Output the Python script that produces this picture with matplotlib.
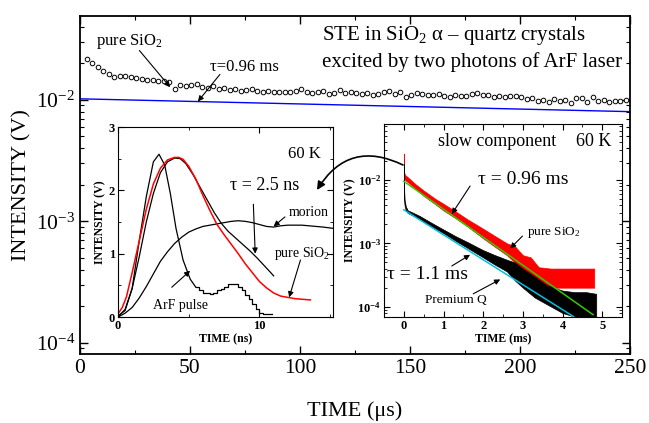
import numpy as np
import matplotlib
matplotlib.use("Agg")
import matplotlib.pyplot as plt
from matplotlib.ticker import MultipleLocator, LogLocator, NullFormatter, FuncFormatter, FixedLocator
from matplotlib.patches import FancyArrowPatch

plt.rcParams['font.family'] = ['Liberation Serif', 'DejaVu Serif']
plt.rcParams['mathtext.fontset'] = 'custom'
plt.rcParams['mathtext.rm'] = 'Liberation Serif'
plt.rcParams['mathtext.it'] = 'Liberation Serif:italic'
plt.rcParams['mathtext.bf'] = 'Liberation Serif:bold'
plt.rcParams['xtick.direction'] = 'in'
plt.rcParams['ytick.direction'] = 'in'
plt.rcParams['xtick.top'] = True
plt.rcParams['ytick.right'] = True

# main plot: STE decay, microsecond scale (values in 1e-3 V)
ste_mV = [21.5, 20.0, 18.8, 17.4, 16.2, 15.5, 15.8, 15.6, 15.3, 15.0, 14.8, 14.6, 14.5, 14.3, 14.4,
          14.0, 12.4, 13.3, 12.9, 13.2, 13.4, 12.8, 12.6, 12.9, 12.3,
          12.5, 12.1, 12.4, 11.8, 12.0, 12.2, 11.9, 11.7, 11.8, 11.6,
          11.6, 11.7, 11.5, 11.8, 12.3, 11.6, 11.3, 11.5, 11.9, 11.2,
          11.4, 12.0, 11.3, 11.5, 11.4, 11.2, 11.3, 11.0, 11.2, 11.6,
          11.9, 11.1, 11.5, 10.6, 11.0, 11.3, 11.2, 11.0, 10.9, 11.1,
          10.8, 10.6, 10.9, 10.7, 10.8, 11.1, 11.3, 11.0, 10.9, 10.6,
          10.7, 10.5, 10.8, 10.7, 10.5, 10.1, 10.3, 9.8, 10.0, 9.6,
          10.1, 9.8, 10.0, 9.5, 10.3, 10.4, 9.6, 10.6, 9.7, 9.9,
          9.6, 9.8, 9.7, 9.9]
ste_t = 3 + 2.5 * np.arange(len(ste_mV))
fit_us_t = [0, 250]
fit_us_y = [1.02e-2, 0.80e-2]

# left inset: nanosecond scale
arf_t = [0, 0.5, 1.0, 1.5, 2.0, 2.5, 2.9, 3.3, 3.7, 4.1, 4.6, 5.1, 5.5]
arf_y = [0.02, 0.1, 0.45, 1.2, 1.9, 2.45, 2.57, 2.4, 1.95, 1.4, 0.9, 0.6, 0.47]
arf_tail_t = [5.5, 5.75, 6.0, 6.25, 6.5, 6.75, 7.0, 7.25, 7.5, 7.75, 8.0, 8.25, 8.5, 8.75,
              9.0, 9.25, 9.5, 9.75, 10.0, 10.25, 10.5, 10.75, 10.9]
arf_tail_y = [0.47, 0.42, 0.38, 0.38, 0.36, 0.38, 0.42, 0.45, 0.48, 0.52, 0.52, 0.52, 0.48, 0.42,
              0.35, 0.28, 0.2, 0.12, 0.06, 0.04, 0.04, 0.04, 0.04]
sio2_ns_t = [0, 0.3, 0.6, 1.0, 1.5, 2.0, 2.5, 3.0, 3.5, 4.0, 4.3, 4.6, 5.0, 5.5, 6.0, 6.5, 7.0,
             7.5, 8.0, 8.5, 9.0, 9.5, 10.0, 10.5, 11.0, 11.5, 12.0, 12.5, 13.0, 13.6]
sio2_ns_y = [0.05, 0.15, 0.32, 0.7, 1.2, 1.7, 2.1, 2.35, 2.48, 2.52, 2.52, 2.49, 2.38, 2.18, 1.92,
             1.68, 1.46, 1.3, 1.15, 1.0, 0.84, 0.7, 0.56, 0.46, 0.38, 0.33, 0.31, 0.29, 0.28, 0.27]
fit_ns_t = [0, 0.5, 1.0, 1.5, 2.0, 2.5, 3.0, 3.5, 4.0, 4.4, 4.8, 5.3, 5.8, 6.3, 6.8, 7.3, 7.8,
            8.3, 8.8, 9.3, 9.8, 10.3, 10.8, 11.0]
fit_ns_y = [0, 0.12, 0.45, 0.95, 1.5, 1.95, 2.28, 2.45, 2.51, 2.5, 2.42, 2.25, 2.05, 1.85, 1.65,
            1.48, 1.35, 1.25, 1.15, 1.05, 0.94, 0.82, 0.7, 0.65]
morion_t = [0, 0.5, 1.0, 1.5, 2.0, 2.5, 3.0, 3.5, 4.0, 4.5, 5.0, 5.5, 6.0, 6.5, 7.0, 7.5, 8.0,
            8.5, 9.0, 9.5, 10.0, 10.5, 11.0, 11.5, 12.0, 12.5, 13.0, 13.5, 14.0, 14.5, 15.2]
morion_y = [0, 0.06, 0.15, 0.3, 0.48, 0.68, 0.88, 1.03, 1.16, 1.26, 1.34, 1.39, 1.43, 1.45, 1.47,
            1.49, 1.51, 1.52, 1.51, 1.49, 1.46, 1.43, 1.42, 1.44, 1.45, 1.45, 1.45, 1.44, 1.43,
            1.42, 1.40]

# right inset: millisecond scale (noisy bands given as envelopes)
red_t = [0.0, 0.005, 0.01, 0.03, 0.1, 0.3, 0.5, 0.8, 1.0, 1.3, 1.6, 2.0, 2.3, 2.6, 2.8, 3.0,
         3.2, 3.4, 3.7, 4.0, 4.3, 4.6, 4.8]
red_hi = [2.6e-2, 1.6e-2, 1.3e-2, 1.2e-2, 1.1e-2, 8.5e-3, 6.8e-3, 5.0e-3, 4.2e-3, 3.2e-3, 2.4e-3,
          1.7e-3, 1.3e-3, 1.0e-3, 9e-4, 6.5e-4, 6e-4, 4.2e-4, 4.0e-4, 4.0e-4, 4.0e-4, 4.0e-4, 4.0e-4]
red_lo = [1.2e-2, 1.1e-2, 1.05e-2, 1.0e-2, 9.2e-3, 7.2e-3, 5.6e-3, 4.1e-3, 3.3e-3, 2.5e-3, 1.85e-3,
          1.2e-3, 8.8e-4, 6.5e-4, 5e-4, 3.7e-4, 3.0e-4, 2.0e-4, 2.0e-4, 2.0e-4, 2.0e-4, 2.0e-4, 2.0e-4]
blk_t = [0.0, 0.005, 0.01, 0.02, 0.05, 0.1, 0.2, 0.4, 0.7, 1.0, 1.3, 1.6, 2.0, 2.3, 2.6, 2.8,
         3.0, 3.3, 3.6, 4.0, 4.3, 4.6, 4.85]
blk_hi = [1.8e-2, 1.0e-2, 6.5e-3, 4.8e-3, 3.8e-3, 3.3e-3, 3.1e-3, 2.7e-3, 2.1e-3, 1.65e-3, 1.3e-3,
          1.05e-3, 7.8e-4, 6.5e-4, 5.5e-4, 5.0e-4, 4.0e-4, 3.0e-4, 2.2e-4, 1.8e-4, 1.7e-4, 1.7e-4, 1.6e-4]
blk_lo = [1.2e-2, 6e-3, 4.5e-3, 3.9e-3, 3.3e-3, 3.0e-3, 2.8e-3, 2.4e-3, 1.85e-3, 1.45e-3, 1.1e-3,
          8.5e-4, 6.0e-4, 4.6e-4, 3.6e-4, 2.6e-4, 2.0e-4, 1.4e-4, 1.1e-4, 8e-5, 7e-5, 6.9e-5, 6.9e-5]
green_t = [0, 4.77]
green_y = [9.5e-3, 7.5e-5]
cyan_t = [0, 4.28]
cyan_y = [3.37e-3, 7.0e-5]

W, H = 649, 423
fig = plt.figure(figsize=(W / 100, H / 100), dpi=100)

def box(x0, y0, x1, y1):
    return [x0 / W, 1 - y1 / H, (x1 - x0) / W, (y1 - y0) / H]

arw = dict(arrowstyle='-|>', color='k', lw=0.8, mutation_scale=8, shrinkA=0, shrinkB=0)

# ---- main axes
ax = fig.add_axes(box(80, 16, 630, 354))
ax.plot(ste_t, np.array(ste_mV) * 1e-3, 'o', mfc='white', mec='k', ms=3.3, mew=0.7)
ax.plot(fit_us_t, fit_us_y, color='#0000ff', lw=1)
ax.set_yscale('log')
ax.set_xlim(0, 250)
ax.set_ylim(8.1e-5, 4.9e-2)
ax.xaxis.set_major_locator(MultipleLocator(50))
ax.xaxis.set_minor_locator(MultipleLocator(25))
ax.yaxis.set_major_locator(LogLocator(base=10, numticks=10))
ax.yaxis.set_minor_locator(LogLocator(base=10, subs=np.arange(2, 10), numticks=10))
ax.yaxis.set_minor_formatter(NullFormatter())
ax.tick_params(which='major', length=6, width=1, labelsize=15.5)
ax.tick_params(which='minor', length=3, width=0.8)
for s in ax.spines.values():
    s.set_linewidth(1.3)
ax.set_xlabel('TIME (μs)', fontsize=16, labelpad=17)
ax.set_ylabel('INTENSITY (V)', fontsize=16, labelpad=3)
ax.text(110, 3.4e-2, 'STE in SiO$_2$ α – quartz crystals', fontsize=15, va='center')
ax.text(110, 2.05e-2, 'excited by two photons of ArF laser', fontsize=15, va='center')
ax.text(7.5, 3.0e-2, 'pure SiO$_2$', fontsize=12, va='center')
ax.annotate('', xy=(41, 1.27e-2), xytext=(27, 2.55e-2), arrowprops=arw)
ax.text(59, 1.87e-2, 'τ=0.96 ms', fontsize=12, va='center')
ax.annotate('', xy=(53.6, 0.97e-2), xytext=(63.6, 1.62e-2), arrowprops=arw)

# ---- left inset (ns)
ax1 = fig.add_axes(box(118, 127, 333, 317))
ax1.plot(morion_t, morion_y, color='k', lw=0.9)
ax1.plot(fit_ns_t, fit_ns_y, color='k', lw=0.9)
ax1.plot(arf_t, arf_y, color='k', lw=0.9)
ax1.plot(arf_tail_t, arf_tail_y, color='k', lw=0.9, drawstyle='steps-post')
ax1.plot(sio2_ns_t, sio2_ns_y, color='#ff0000', lw=1.1)
ax1.set_xlim(0, 15.2)
ax1.set_ylim(0, 3)
ax1.xaxis.set_major_locator(FixedLocator([0, 10]))
ax1.xaxis.set_minor_locator(FixedLocator([5, 15]))
ax1.yaxis.set_major_locator(MultipleLocator(1))
ax1.yaxis.set_minor_locator(MultipleLocator(0.5))
ax1.tick_params(which='major', length=4, labelsize=9, pad=2)
ax1.tick_params(which='minor', length=2)
for lab in ax1.get_xticklabels() + ax1.get_yticklabels():
    lab.set_fontweight('bold')
ax1.set_xlabel('TIME (ns)', fontsize=8.5, fontweight='bold', labelpad=1)
ax1.set_ylabel('INTENSITY (V)', fontsize=8.5, fontweight='bold', labelpad=2)
ax1.text(12.0, 2.57, '60 K', fontsize=12, va='center')
ax1.text(7.9, 2.07, 'τ = 2.5 ns', fontsize=13, va='center')
ax1.annotate('', xy=(9.7, 1.0), xytext=(9.57, 1.78), arrowprops=arw)
ax1.text(12.06, 1.65, 'morion', fontsize=10, va='center')
ax1.annotate('', xy=(11.0, 1.43), xytext=(11.8, 1.58), arrowprops=arw)
ax1.text(11.0, 1.0, 'pure SiO$_2$', fontsize=10, va='center')
ax1.annotate('', xy=(12.1, 0.31), xytext=(12.9, 0.9), arrowprops=arw)
ax1.text(2.5, 0.18, 'ArF pulse', fontsize=10, va='center')
ax1.annotate('', xy=(5.1, 0.73), xytext=(3.8, 0.47), arrowprops=arw)

# ---- right inset (ms)
ax2 = fig.add_axes(box(384, 124, 622, 317))
ax2.fill_between(red_t, red_lo, red_hi, color='#ff0000', lw=0.5)
ax2.fill_between(blk_t, blk_lo, blk_hi, color='k', lw=0.5)
ax2.plot(green_t, green_y, color='#33cc00', lw=1.1)
ax2.plot(cyan_t, cyan_y, color='#00c0e0', lw=1.1)
ax2.set_yscale('log')
ax2.set_xlim(-0.5, 5.5)
ax2.set_ylim(6.9e-5, 7.6e-2)
ax2.xaxis.set_major_locator(MultipleLocator(1))
ax2.xaxis.set_minor_locator(MultipleLocator(0.5))
ax2.yaxis.set_major_locator(FixedLocator([1e-4, 1e-3, 1e-2]))
ax2.yaxis.set_minor_locator(LogLocator(base=10, subs=np.arange(2, 10), numticks=10))
ax2.yaxis.set_minor_formatter(NullFormatter())
ax2.yaxis.set_major_formatter(FuncFormatter(lambda v, p: r'$\mathbf{10^{%d}}$' % round(np.log10(v))))
ax2.tick_params(which='major', length=4, labelsize=9, pad=2)
ax2.tick_params(which='minor', length=2)
for lab in ax2.get_xticklabels():
    lab.set_fontweight('bold')
ax2.set_xlabel('TIME (ms)', fontsize=8.5, fontweight='bold', labelpad=1)
ax2.set_ylabel('INTENSITY (V)', fontsize=8.5, fontweight='bold', labelpad=1)
ax2.text(0.86, 4.0e-2, 'slow component', fontsize=13, va='center')
ax2.text(4.33, 4.0e-2, '60 K', fontsize=13, va='center')
ax2.text(1.87, 1.0e-2, 'τ = 0.96 ms', fontsize=14, va='center')
ax2.annotate('', xy=(1.21, 2.9e-3), xytext=(1.67, 8e-3), arrowprops=arw)
ax2.text(3.1, 1.5e-3, 'pure SiO$_2$', fontsize=9.5, va='center')
ax2.annotate('', xy=(2.68, 8.3e-4), xytext=(2.99, 1.3e-3), arrowprops=arw)
ax2.text(-0.43, 3.2e-4, 'τ = 1.1 ms', fontsize=14, va='center')
ax2.annotate('', xy=(1.67, 6.6e-4), xytext=(1.21, 4.4e-4), arrowprops=arw)
ax2.text(0.53, 1.27e-4, 'Premium Q', fontsize=9.5, va='center')
ax2.annotate('', xy=(2.43, 2.7e-4), xytext=(1.75, 1.6e-4), arrowprops=arw)

# curved arrow linking the two insets
arc = FancyArrowPatch((403 / W, 1 - 165 / H), (317 / W, 1 - 190 / H), transform=fig.transFigure,
                      connectionstyle='arc3,rad=0.45', arrowstyle='-|>', mutation_scale=12,
                      color='k', lw=1.2, shrinkA=0, shrinkB=0)
fig.patches.append(arc)

fig.savefig('out.png', dpi=100)
